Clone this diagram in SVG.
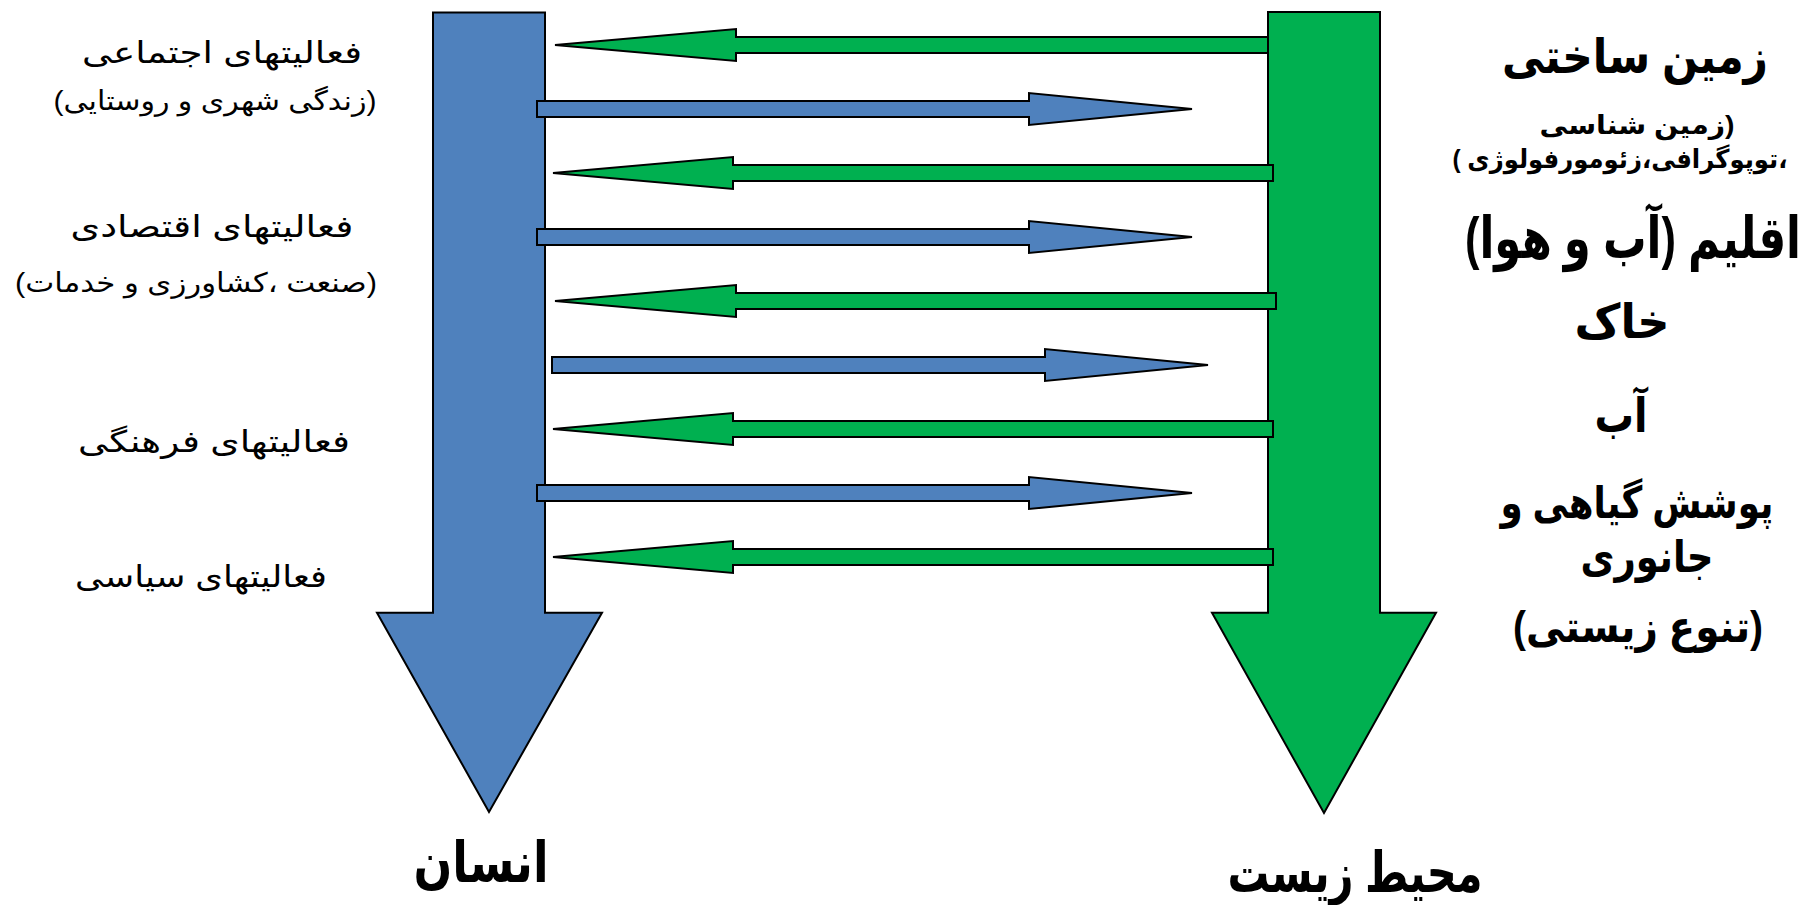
<svg xmlns="http://www.w3.org/2000/svg" width="1811" height="905" viewBox="0 0 1811 905">
<style>
.blue{fill:#4F81BD;stroke:#000;stroke-width:2;stroke-linejoin:miter}
.green{fill:#00B050;stroke:#000;stroke-width:2;stroke-linejoin:miter}
text{font-family:"Liberation Sans","DejaVu Sans",sans-serif;fill:#000;text-anchor:middle;direction:rtl}
.lab{font-size:30px}
.sub{font-size:27px}
.rb{font-weight:bold}
</style>
<rect width="1811" height="905" fill="#fff"/>
<g id="human-arrow">
<polygon class="blue" points="433,12.5 545,12.5 545,612.7 602,612.7 489,812 377,612.7 433,612.7"/>
</g>
<g id="environment-arrow">
<polygon class="green" points="1268,12 1380,12 1380,612.7 1436,612.7 1324,813 1212,612.7 1268,612.7"/>
</g>
<g id="connectors">
<polygon class="green" points="555,45 736,29 736,37 1268,37 1268,53 736,53 736,61"/>
<polygon class="green" points="553,173 733,157 733,165 1273,165 1273,181 733,181 733,189"/>
<polygon class="green" points="555,301 736,285 736,293 1276,293 1276,309 736,309 736,317"/>
<polygon class="green" points="553,429 733,413 733,421 1273,421 1273,437 733,437 733,445"/>
<polygon class="green" points="553,557 733,541 733,549 1273,549 1273,565 733,565 733,573"/>
<polygon class="blue" points="1192,109 1029,93 1029,101 537,101 537,117 1029,117 1029,125"/>
<polygon class="blue" points="1192,237 1029,221 1029,229 537,229 537,245 1029,245 1029,253"/>
<polygon class="blue" points="1208,365 1045,349 1045,357 552,357 552,373 1045,373 1045,381"/>
<polygon class="blue" points="1192,493 1029,477 1029,485 537,485 537,501 1029,501 1029,509"/>
</g>
<g id="human-activities">
<text class="lab" x="222" y="63" textLength="280" lengthAdjust="spacingAndGlyphs">فعالیتهای اجتماعی</text>
<text class="sub" x="215" y="110" textLength="323" lengthAdjust="spacingAndGlyphs">(زندگی شهری و روستایی)</text>
<text class="lab" x="212" y="237" textLength="283" lengthAdjust="spacingAndGlyphs">فعالیتهای اقتصادی</text>
<text class="sub" x="196" y="292" textLength="362" lengthAdjust="spacingAndGlyphs">(صنعت ،کشاورزی و خدمات)</text>
<text class="lab" x="214" y="452" textLength="272" lengthAdjust="spacingAndGlyphs">فعالیتهای فرهنگی</text>
<text class="lab" x="201" y="587" textLength="252" lengthAdjust="spacingAndGlyphs">فعالیتهای سیاسی</text>
</g>
<g id="environment-factors">
<text class="rb" x="1635" y="73" font-size="48" textLength="266" lengthAdjust="spacingAndGlyphs">زمین ساختی</text>
<text class="rb" x="1637" y="134" font-size="26" textLength="195" lengthAdjust="spacingAndGlyphs">(زمین شناسی</text>
<text class="rb" x="1620" y="168" font-size="26" textLength="335" lengthAdjust="spacingAndGlyphs">،توپوگرافی،زئومورفولوژی )</text>
<text class="rb" x="1633" y="258" font-size="58" textLength="336" lengthAdjust="spacingAndGlyphs">اقلیم (آب و هوا)</text>
<text class="rb" x="1622" y="338" font-size="48" textLength="95" lengthAdjust="spacingAndGlyphs">خاک</text>
<text class="rb" x="1621" y="432" font-size="48" textLength="53" lengthAdjust="spacingAndGlyphs">آب</text>
<text class="rb" x="1637" y="518" font-size="44" textLength="273" lengthAdjust="spacingAndGlyphs">پوشش گیاهی و</text>
<text class="rb" x="1647" y="572" font-size="44" textLength="133" lengthAdjust="spacingAndGlyphs">جانوری</text>
<text class="rb" x="1638" y="642" font-size="44" textLength="250" lengthAdjust="spacingAndGlyphs">(تنوع زیستی)</text>
</g>
<g id="human-label">
<text class="rb" x="481" y="882" font-size="56" textLength="135" lengthAdjust="spacingAndGlyphs">انسان</text>
</g>
<g id="environment-label">
<text class="rb" x="1355" y="892" font-size="56" textLength="255" lengthAdjust="spacingAndGlyphs">محیط زیست</text>
</g>
</svg>
